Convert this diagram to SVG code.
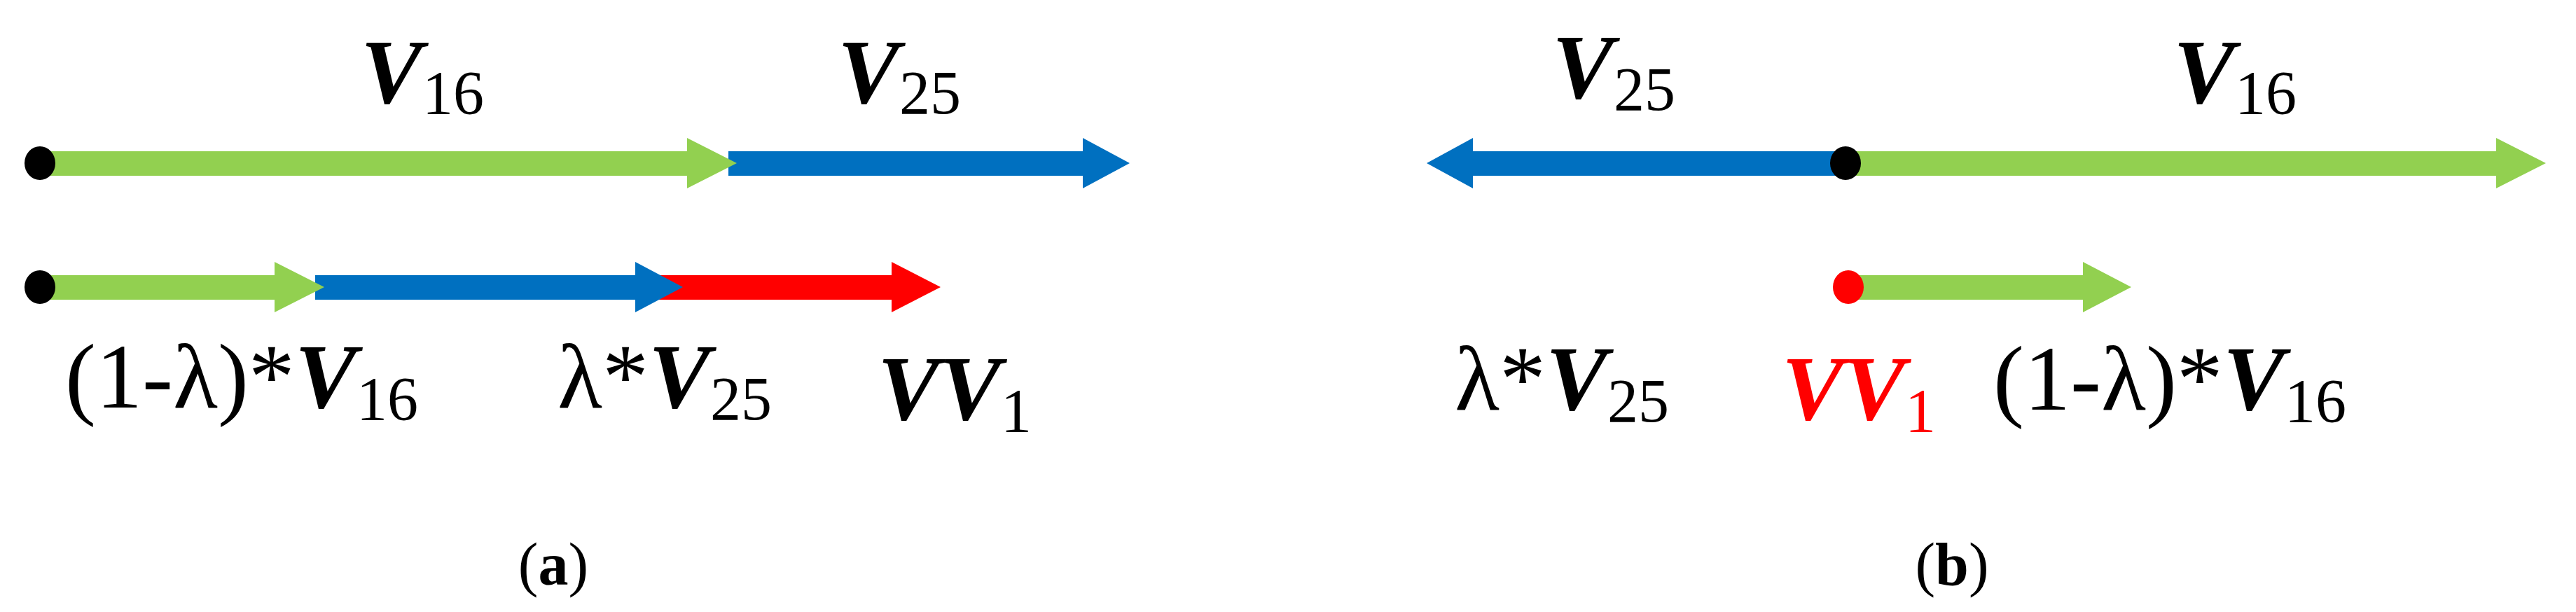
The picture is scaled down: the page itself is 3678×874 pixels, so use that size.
<svg xmlns="http://www.w3.org/2000/svg" width="3678" height="874" viewBox="0 0 3678 874">
<style>
.t{font-family:"Liberation Serif",serif;font-size:132px;fill:#000}
.v{font-weight:bold;font-style:italic}
.s{font-size:88px}
.cap{font-family:"Liberation Serif",serif;font-size:86px}
.g{fill:#92d050}.b{fill:#0070c0}.r{fill:#ff0000}
</style>
<rect width="3678" height="874" fill="#fff"/>
<g id="connectors">
<polygon class="b" points="1040,216 1546,216 1546,197 1613,233 1546,269 1546,251 1040,251"/>
<polygon class="g" points="57,216 981,216 981,197 1052,233 981,269 981,251 57,251"/>
<polygon class="r" points="900,393 1273,393 1273,374 1343,410 1273,446 1273,428 900,428"/>
<polygon class="b" points="450,393 907,393 907,374 975,410 907,446 907,428 450,428"/>
<polygon class="g" points="57,393 392,393 392,374 463,410 392,446 392,428 57,428"/>
<polygon class="b" points="2635,216 2103,216 2103,197 2037,233 2103,269 2103,251 2635,251"/>
<polygon class="g" points="2635,216 3564,216 3564,197 3635,233 3564,269 3564,251 2635,251"/>
<polygon class="g" points="2639,393 2974,393 2974,374 3043,410 2974,446 2974,428 2639,428"/>
</g>
<g id="dot-a1"><ellipse cx="57" cy="233" rx="22" ry="24"/></g>
<g id="dot-a2"><ellipse cx="57" cy="410" rx="22" ry="24"/></g>
<g id="dot-b1"><ellipse cx="2635" cy="233" rx="22" ry="24"/></g>
<g id="dot-b2"><ellipse class="r" cx="2639" cy="410" rx="22" ry="24"/></g>
<g id="labels-a">
<text class="t" x="515" y="147"><tspan class="v">V</tspan><tspan class="s" dy="15">16</tspan></text>
<text class="t" x="1196" y="147"><tspan class="v">V</tspan><tspan class="s" dy="15">25</tspan></text>
<text class="t" x="93" y="582">(1-λ)*<tspan class="v">V</tspan><tspan class="s" dy="17">16</tspan></text>
<text class="t" x="796" y="582">λ*<tspan class="v">V</tspan><tspan class="s" dy="17">25</tspan></text>
<text class="t" x="1253" y="599"><tspan class="v">VV</tspan><tspan class="s" dy="17">1</tspan></text>
<text class="cap" x="790" y="835" text-anchor="middle">(<tspan font-weight="bold">a</tspan>)</text>
</g>
<g id="labels-b">
<text class="t" x="2216" y="140"><tspan class="v">V</tspan><tspan class="s" dy="17">25</tspan></text>
<text class="t" x="3103" y="147"><tspan class="v">V</tspan><tspan class="s" dy="15">16</tspan></text>
<text class="t" x="2077" y="585">λ*<tspan class="v">V</tspan><tspan class="s" dy="17">25</tspan></text>
<text class="t" x="2544" y="599" fill="#ff0000" style="fill:#ff0000"><tspan class="v">VV</tspan><tspan class="s" dy="17">1</tspan></text>
<text class="t" x="2846" y="585">(1-λ)*<tspan class="v">V</tspan><tspan class="s" dy="17">16</tspan></text>
<text class="cap" x="2787" y="835" text-anchor="middle">(<tspan font-weight="bold">b</tspan>)</text>
</g>
</svg>
